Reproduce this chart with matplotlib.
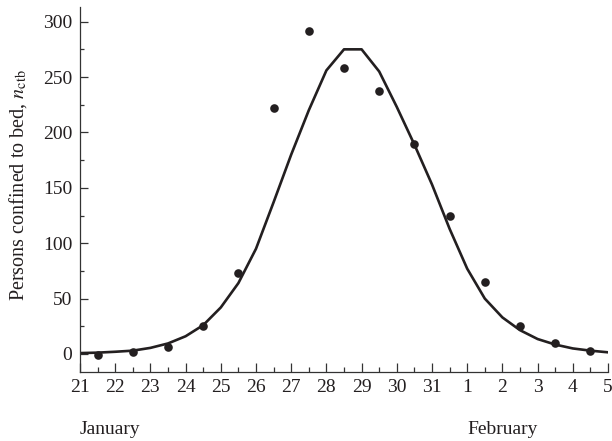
import numpy as np
import matplotlib.pyplot as plt
from matplotlib.ticker import MultipleLocator

plt.rcParams['font.family'] = ['Liberation Serif', 'DejaVu Serif']
plt.rcParams['mathtext.fontset'] = 'stix'

# Day labels on the x axis (21 Jan .. 5 Feb), one per day
day_labels = ['21', '22', '23', '24', '25', '26', '27', '28', '29', '30', '31',
              '1', '2', '3', '4', '5']

# Observed persons confined to bed, reported at mid-day (21.5 Jan .. 4.5 Feb)
observed = [-1, 2, 6, 25, 73, 222, 292, 258, 237, 190, 125, 65, 25, 10, 3]

# Model curve, sampled every half day from 21 Jan to 5 Feb
model = [0.8, 1.2, 2, 3, 5.5, 9.5, 16, 26, 42, 64, 95, 137, 180, 220, 256,
         275, 275, 255, 223, 189, 153, 113, 77, 50, 33, 21.5, 13.5, 8.5, 5, 3, 1.5]

day_pos = np.arange(len(day_labels))
obs_pos = np.arange(len(observed)) + 0.5
model_pos = np.arange(len(model)) * 0.5

ink = '#231f20'

fig = plt.figure(figsize=(6.12, 4.41), dpi=100)
ax = fig.add_axes([80 / 612, 1 - 371.7 / 441, 528 / 612, 365 / 441])

ax.plot(model_pos, model, color=ink, lw=1.9)
ax.plot(obs_pos, observed, 'o', color=ink, ms=6.2, mec='none')

ax.set_xlim(0, 15)
ax.set_ylim(-16, 313.5)

ax.set_xticks(day_pos)
ax.set_xticklabels(day_labels)
ax.xaxis.set_minor_locator(MultipleLocator(0.5))
ax.yaxis.set_major_locator(MultipleLocator(50))
ax.yaxis.set_minor_locator(MultipleLocator(25))

ax.tick_params(which='both', direction='in', labelsize=14, color='#333333',
               labelcolor=ink, width=0.9, pad=5.5)
ax.tick_params(axis='x', which='major', length=6.5)
ax.tick_params(axis='x', which='minor', length=3.6)
ax.tick_params(axis='y', which='major', length=6)
ax.tick_params(axis='y', which='minor', length=3)

for side in ['top', 'right']:
    ax.spines[side].set_visible(False)
for side in ['left', 'bottom']:
    ax.spines[side].set_linewidth(0.9)
    ax.spines[side].set_color('#333333')

ax.set_ylabel('Persons confined to bed, $n_{\\mathrm{ctb}}$', fontsize=14.5,
              color=ink)
ax.yaxis.set_label_coords(-0.097, 0.51)

trans = ax.get_xaxis_transform()
ax.text(0, -0.157, 'January', transform=trans, fontsize=14, ha='left',
        va='center', color=ink)
ax.text(11, -0.157, 'February', transform=trans, fontsize=14, ha='left',
        va='center', color=ink)

fig.savefig('out.png', dpi=100)
